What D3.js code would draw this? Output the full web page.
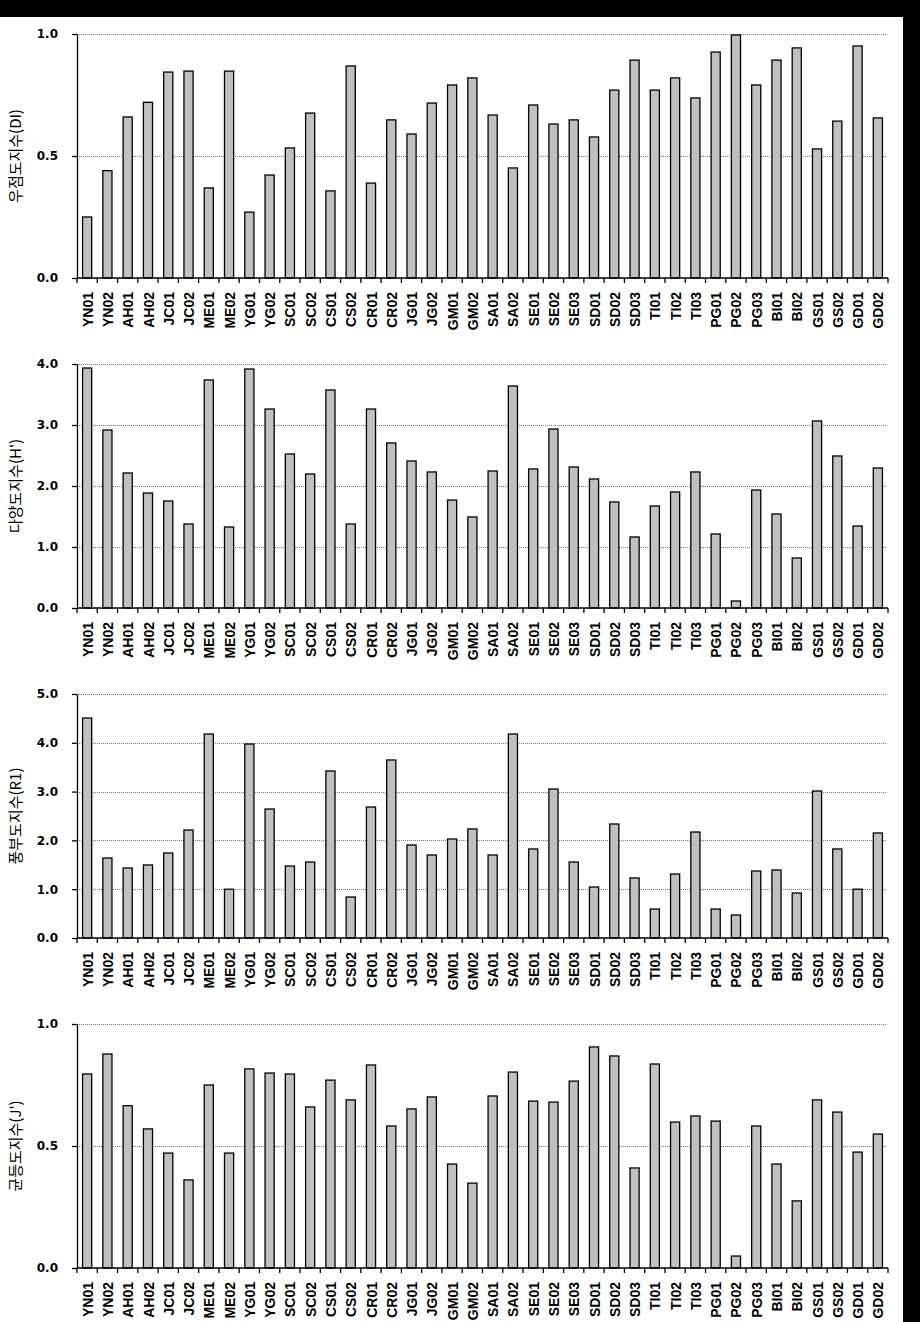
<!DOCTYPE html>
<html><head><meta charset="utf-8">
<script src="https://cdn.jsdelivr.net/npm/d3@7"></script>
<style>body{margin:0;background:#000}svg{display:block}</style>
</head><body>
<script>
const categories = ["YN01","YN02","AH01","AH02","JC01","JC02","ME01","ME02","YG01","YG02","SC01","SC02","CS01","CS02","CR01","CR02","JG01","JG02","GM01","GM02","SA01","SA02","SE01","SE02","SE03","SD01","SD02","SD03","TI01","TI02","TI03","PG01","PG02","PG03","BI01","BI02","GS01","GS02","GD01","GD02"];

const dominance = [0.25,0.44,0.66,0.72,0.844,0.848,0.369,0.848,0.27,0.422,0.533,0.676,0.357,0.869,0.389,0.648,0.59,0.717,0.791,0.82,0.668,0.451,0.709,0.631,0.648,0.578,0.77,0.893,0.77,0.82,0.738,0.926,0.996,0.791,0.893,0.943,0.529,0.643,0.951,0.656];
const diversity = [3.934,2.918,2.213,1.885,1.754,1.377,3.738,1.328,3.918,3.262,2.525,2.197,3.574,1.377,3.262,2.705,2.41,2.23,1.77,1.492,2.246,3.639,2.279,2.934,2.311,2.115,1.738,1.164,1.672,1.902,2.23,1.213,0.115,1.934,1.541,0.82,3.066,2.492,1.344,2.295];
const richness = [4.508,1.639,1.434,1.496,1.742,2.213,4.18,1.0,3.975,2.643,1.475,1.557,3.422,0.84,2.684,3.648,1.906,1.701,2.029,2.234,1.701,4.18,1.824,3.053,1.557,1.045,2.336,1.23,0.594,1.311,2.172,0.594,0.471,1.373,1.393,0.922,3.012,1.824,1.0,2.152];
const evenness = [0.795,0.877,0.665,0.57,0.471,0.361,0.75,0.471,0.816,0.799,0.795,0.66,0.77,0.689,0.832,0.582,0.652,0.701,0.426,0.348,0.705,0.803,0.684,0.68,0.766,0.906,0.869,0.41,0.836,0.598,0.623,0.602,0.049,0.582,0.426,0.275,0.689,0.639,0.475,0.549];

const yTicks1 = [0, 0.5, 1.0];
const yTicks2 = [0, 1, 2, 3, 4];
const yTicks3 = [0, 1, 2, 3, 4, 5];
const yTicks4 = [0, 0.5, 1.0];

const panels = [
  {values: dominance, max: 1.0, ticks: yTicks1, label: "우점도지수(DI)"},
  {values: diversity, max: 4.0, ticks: yTicks2, label: "다양도지수(H')"},
  {values: richness, max: 5.0, ticks: yTicks3, label: "풍부도지수(R1)"},
  {values: evenness, max: 1.0, ticks: yTicks4, label: "균등도지수(J')"}
];

const W = 920, H = 1322;
const svg = d3.select("body").append("svg").attr("width", W).attr("height", H);
svg.append("rect").attr("width", W).attr("height", H).attr("fill", "#000");
svg.append("rect").attr("x", 0).attr("y", 17).attr("width", 903).attr("height", H - 17).attr("fill", "#fff");

const x0 = 77, x1 = 888;
const xBar = d3.scaleBand().domain(categories).range([x0, x1]).paddingInner(0.55).paddingOuter(0.275);
const xTick = d3.scaleBand().domain(categories).range([x0, x1]).padding(0);

panels.forEach((p, i) => {
  const zeroY = 278 + i * 330;
  const topY = zeroY - 244;
  const y = d3.scaleLinear().domain([0, p.max]).range([zeroY, topY]);
  const g = svg.append("g");

  // gridlines
  g.selectAll("line.grid").data(p.ticks.filter(t => t > 0)).join("line")
    .attr("x1", x0).attr("x2", 886)
    .attr("y1", d => Math.round(y(d)) + 0.5).attr("y2", d => Math.round(y(d)) + 0.5)
    .attr("stroke", "#7a7a7a").attr("stroke-width", 1).attr("stroke-dasharray", "1,1");

  // bars
  g.selectAll("rect.bar").data(p.values).join("rect")
    .attr("x", (d, j) => xBar(categories[j]))
    .attr("y", d => y(d))
    .attr("width", xBar.bandwidth())
    .attr("height", d => y(0) - y(d))
    .attr("fill", "#c0c0c0").attr("stroke", "#000").attr("stroke-width", 1.3);

  // y axis
  const yAxis = d3.axisLeft(y).tickValues(p.ticks).tickFormat(d3.format(".1f")).tickSize(5).tickSizeOuter(0).tickPadding(14);
  const ya = g.append("g").attr("transform", `translate(${x0},0)`).call(yAxis);
  ya.select(".domain").attr("stroke", "#000").attr("stroke-width", 1.3);
  ya.selectAll(".tick line").attr("stroke", "#000").attr("stroke-width", 1.3);
  ya.selectAll(".tick text").attr("font-family", "'DejaVu Sans', Verdana, sans-serif")
    .attr("font-weight", "bold").attr("font-size", 12).attr("fill", "#000");

  // x axis line
  g.append("line").attr("x1", x0).attr("x2", x1).attr("y1", zeroY).attr("y2", zeroY)
    .attr("stroke", "#000").attr("stroke-width", 1.3);
  // x boundary ticks
  const bounds = categories.map(c => xTick(c)).concat([x1]);
  g.selectAll("line.xt").data(bounds).join("line")
    .attr("x1", d => d).attr("x2", d => d).attr("y1", zeroY).attr("y2", zeroY + 5)
    .attr("stroke", "#000").attr("stroke-width", 1.3);
  // x labels
  g.selectAll("text.xl").data(categories).join("text")
    .attr("transform", d => `translate(${xTick(d) + xTick.bandwidth() / 2 + 0.5},${zeroY + 14}) rotate(-90)`)
    .attr("text-anchor", "end").attr("dy", "0.36em")
    .attr("font-family", "'Liberation Sans', Arial, sans-serif").attr("font-weight", "bold")
    .attr("font-size", 14).attr("fill", "#000")
    .text(d => d);

  // y title
  g.append("text")
    .attr("transform", `translate(16,${(zeroY + topY) / 2}) rotate(-90)`)
    .attr("text-anchor", "middle").attr("dy", "0.35em")
    .attr("font-family", "'Noto Sans CJK KR', sans-serif").attr("font-size", 15).attr("fill", "#000")
    .text(p.label);
});
</script>
</body></html>
